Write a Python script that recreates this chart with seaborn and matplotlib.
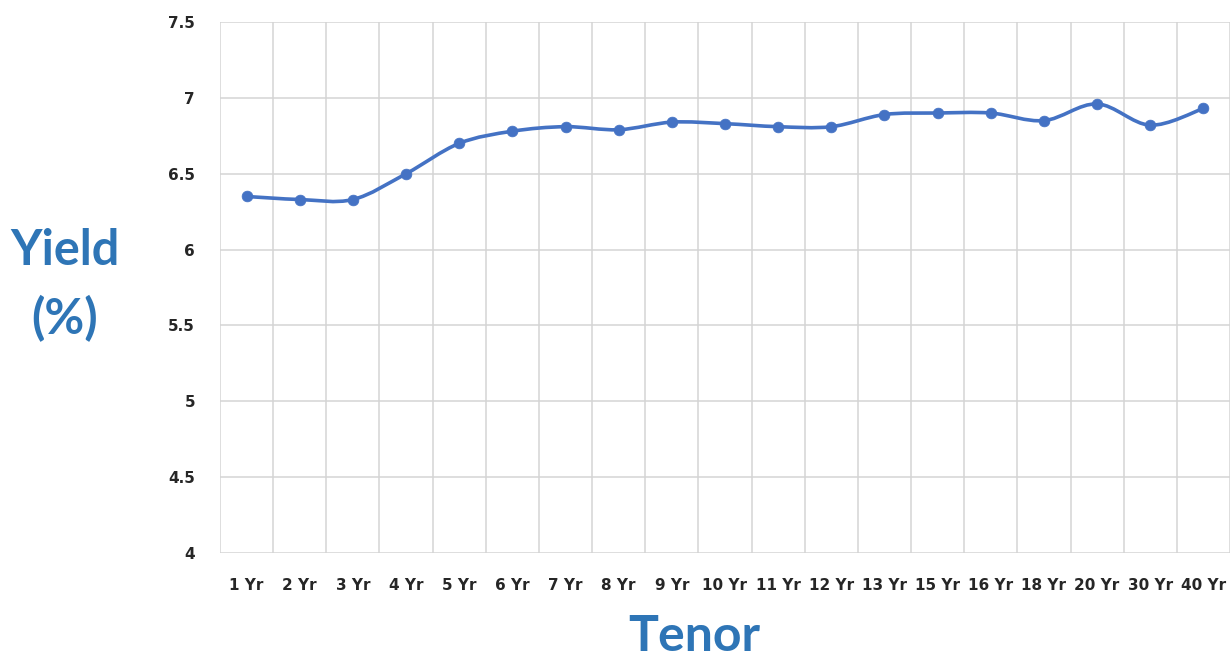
import numpy as np
import pandas as pd
import matplotlib
matplotlib.use("Agg")
import matplotlib.pyplot as plt
from matplotlib.path import Path
from matplotlib.patches import PathPatch
import seaborn as sns

tenors = ["1 Yr", "2 Yr", "3 Yr", "4 Yr", "5 Yr", "6 Yr", "7 Yr", "8 Yr", "9 Yr", "10 Yr",
          "11 Yr", "12 Yr", "13 Yr", "15 Yr", "16 Yr", "18 Yr", "20 Yr", "30 Yr", "40 Yr"]
yields = [6.35, 6.33, 6.33, 6.50, 6.70, 6.78, 6.81, 6.79, 6.84, 6.83,
          6.81, 6.81, 6.89, 6.90, 6.90, 6.85, 6.96, 6.82, 6.93]
y_ticks = [4, 4.5, 5, 5.5, 6, 6.5, 7, 7.5]
y_tick_labels = ["4", "4.5", "5", "5.5", "6", "6.5", "7", "7.5"]

LINE = "#4472C4"
LABEL = "#2E75B6"
GRID = "#D4D4D4"

sns.set_theme(style="white")
plt.rcParams["font.family"] = ["DejaVu Sans"]

df = pd.DataFrame({"pos": np.arange(len(tenors)), "tenor": tenors, "yield": yields})

fig = plt.figure(figsize=(12.32, 6.59), dpi=100)
ax = fig.add_axes([220 / 1232, 1 - 553 / 659, 1010 / 1232, 531 / 659])

# Smoothed line (Excel-style Catmull-Rom Bezier through the data points)
x = df["pos"].to_numpy(float)
y = df["yield"].to_numpy(float)
verts = [(x[0], y[0])]
codes = [Path.MOVETO]
n = len(x)
for i in range(n - 1):
    p0 = (x[i - 1], y[i - 1]) if i > 0 else (x[i], y[i])
    p1 = (x[i], y[i])
    p2 = (x[i + 1], y[i + 1])
    p3 = (x[i + 2], y[i + 2]) if i + 2 < n else (x[i + 1], y[i + 1])
    c1 = (p1[0] + (p2[0] - p0[0]) / 6, p1[1] + (p2[1] - p0[1]) / 6)
    c2 = (p2[0] - (p3[0] - p1[0]) / 6, p2[1] - (p3[1] - p1[1]) / 6)
    verts += [c1, c2, p2]
    codes += [Path.CURVE4] * 3
ax.add_patch(PathPatch(Path(verts, codes), facecolor="none", edgecolor=LINE,
                       lw=2.6, capstyle="round", joinstyle="round", zorder=3))

sns.scatterplot(data=df, x="pos", y="yield", ax=ax, color=LINE, s=60,
                edgecolor=LINE, linewidth=0.5, zorder=4, legend=False)

ax.set_xlim(-0.5, len(tenors) - 0.5)
ax.set_ylim(4, 7.5)
ax.set_yticks(y_ticks)
ax.set_yticklabels(y_tick_labels)
ax.set_xticks(np.arange(len(tenors)))
ax.set_xticklabels(tenors)
ax.set_xticks(np.arange(-0.5, len(tenors)), minor=True)
ax.grid(False)
ax.grid(True, which="minor", axis="x", color=GRID, lw=1.1)
ax.grid(True, which="major", axis="y", color=GRID, lw=1.1)
for s in ax.spines.values():
    s.set_visible(False)
ax.tick_params(axis="both", which="both", length=0)
ax.tick_params(axis="y", pad=18)
ax.tick_params(axis="x", pad=18)
for lab in ax.get_xticklabels() + ax.get_yticklabels():
    lab.set_fontsize(11)
    lab.set_fontweight("bold")
    lab.set_color("#262626")

ax.set_xlabel("Tenor", fontsize=36, fontweight="bold", color=LABEL,
              family=["Lato", "DejaVu Sans"], va="center", ha="center")
ax.xaxis.set_label_coords(0.47, -0.158)
ax.set_ylabel("Yield\n(%)", fontsize=35, fontweight="bold", color=LABEL,
              rotation=0, linespacing=1.55, family=["Lato", "DejaVu Sans"],
              ha="center", va="center")
ax.yaxis.set_label_coords(-0.1535, 0.505)

fig.savefig("out.png", dpi=100, facecolor="white")
